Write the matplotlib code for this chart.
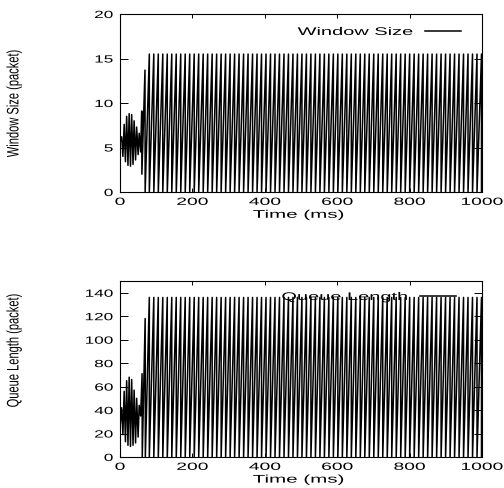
import numpy as np
import matplotlib
matplotlib.use('Agg')
import matplotlib.pyplot as plt
from matplotlib.patheffects import AbstractPathEffect
from matplotlib.transforms import Affine2D

plt.rcParams['font.family'] = ['Liberation Sans', 'DejaVu Sans']

# start-up transient
window_t = [0, 1, 4.6, 8, 11.5, 15, 18.4, 22, 25.3, 29, 32.2, 36, 39, 43, 46, 50, 53, 57, 60, 60.5, 69, 69.5]
window_v = [5.0, 5.8, 6.2, 4.0, 7.6, 3.4, 8.5, 3.0, 8.8, 2.9, 8.7, 3.1, 8.0, 3.6, 7.3, 4.2, 6.6, 4.5, 9.1, 2.0, 13.7, 0]
queue_t = [0, 4.6, 8, 11.5, 15, 18.4, 22, 25.3, 29, 32.2, 36, 39, 43, 46, 50, 53, 57, 61, 61.5, 69.5, 70]
queue_v = [25, 42, 19, 56, 13, 65, 10, 68, 9, 66, 10, 57, 12, 50, 17, 44, 35, 71, 0, 118, 0]

# steady sawtooth: first full spike, spike spacing, peak heights
spike_first = 81
spike_period = 12.4
window_peak = 15.5
queue_peak = 136

x_ticks = [0, 200, 400, 600, 800, 1000]
window_ticks = [0, 5, 10, 15, 20]
queue_ticks = [0, 20, 40, 60, 80, 100, 120, 140]


class Stretch(AbstractPathEffect):
    # widen text horizontally, the way the original picture was scaled
    def __init__(self, sx, anchor='center'):
        super().__init__()
        self.sx = sx
        self.anchor = anchor

    def draw_path(self, renderer, gc, tpath, affine, rgbFace=None):
        box = tpath.get_extents(affine)
        x0 = {'left': box.x0, 'center': (box.x0 + box.x1) / 2, 'right': box.x1}[self.anchor]
        aff = affine + Affine2D().translate(-x0, 0).scale(self.sx, 1).translate(x0, 0)
        renderer.draw_path(gc, tpath, aff, rgbFace)


def with_spikes(t, v, peak):
    t = list(t)
    v = list(v)
    for p in np.arange(spike_first, 1000, spike_period):
        t += [p, p]
        v += [peak, 0]
    return t, v


fig = plt.figure(figsize=(5.04, 4.88), dpi=100)
ax1 = fig.add_axes([120 / 504, 296 / 488, 362 / 504, 178 / 488])
ax2 = fig.add_axes([120 / 504, 31 / 488, 362 / 504, 176 / 488])

wt, wv = with_spikes(window_t, window_v, window_peak)
qt, qv = with_spikes(queue_t, queue_v, queue_peak)
ax1.plot(wt, wv, color='black', lw=1.1, label='Window Size')
ax2.plot(qt, qv, color='black', lw=1.1, label='Queue Length')

panels = [
    (ax1, (0, 20), window_ticks, 'Window Size (packet)', 0.5, 0.942, 0.899),
    (ax2, (0, 150), queue_ticks, 'Queue Length (packet)', 0.608, 0.928, 0.909),
]
for ax, ylim, yticks, ylabel, ylab_y, leg_x, leg_y in panels:
    ax.set_xlim(0, 1000)
    ax.set_ylim(*ylim)
    ax.set_xticks(x_ticks)
    ax.set_yticks(yticks)
    ax.tick_params(axis='both', which='both', direction='in', top=True, right=True,
                   labelsize=7.5, width=0.7, colors='black')
    ax.tick_params(axis='x', length=3, pad=3.5)
    ax.tick_params(axis='y', length=6, pad=5)
    for s in ax.spines.values():
        s.set_linewidth(0.8)
    for lab in ax.get_xticklabels():
        lab.set_path_effects([Stretch(1.85, 'center')])
    for lab in ax.get_yticklabels():
        lab.set_path_effects([Stretch(1.65, 'right')])

    ax.set_xlabel('Time (ms)', fontsize=8)
    ax.xaxis.set_label_coords(0.493, -0.1)
    ax.xaxis.label.set_path_effects([Stretch(1.85, 'center')])
    ax.set_ylabel(ylabel, fontsize=8)
    ax.yaxis.set_label_coords(-0.279, ylab_y)
    ax.yaxis.label.set_path_effects([Stretch(1.5, 'center')])

    leg = ax.legend(loc='center right', bbox_to_anchor=(leg_x, leg_y), frameon=False,
                    markerfirst=False, fontsize=8, handlelength=3.2, handletextpad=1.1,
                    borderpad=0, borderaxespad=0)
    for txt in leg.get_texts():
        txt.set_path_effects([Stretch(1.8, 'right')])

fig.savefig('out.png', dpi=100)
